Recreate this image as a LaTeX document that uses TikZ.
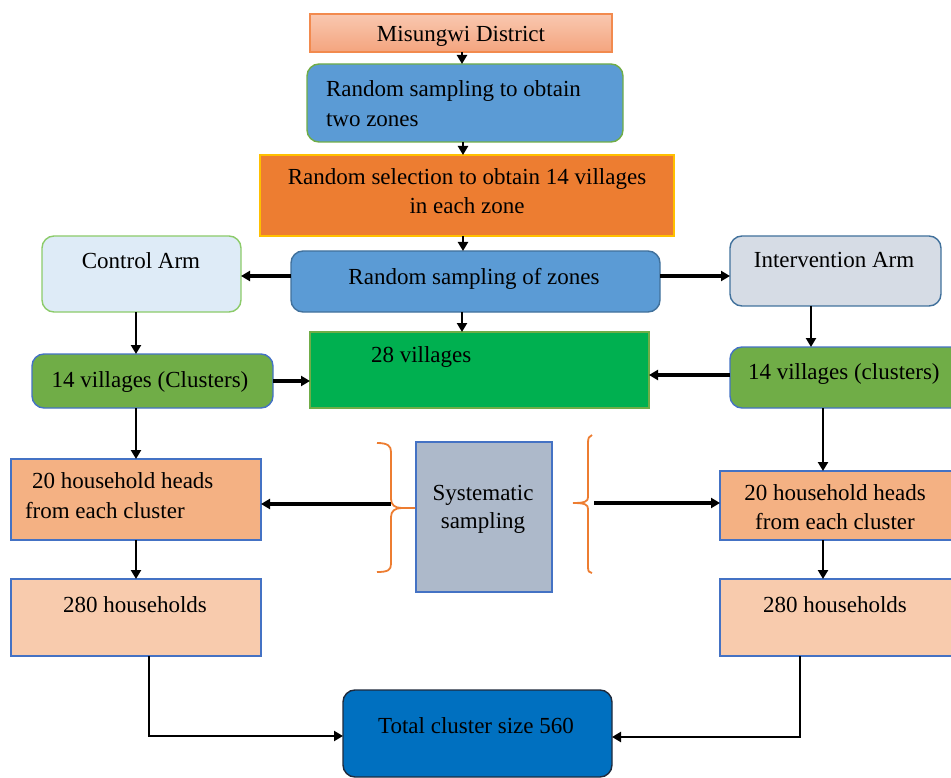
\documentclass[tikz,border=0pt]{standalone}
\usepackage{fontspec}
\setmainfont{Liberation Serif}
\usetikzlibrary{arrows.meta}
\definecolor{misTop}{HTML}{F9C8B0}
\definecolor{misBot}{HTML}{F4A47E}
\definecolor{misBd}{HTML}{F28A4E}
\definecolor{blueA}{HTML}{5B9BD5}
\definecolor{orangeA}{HTML}{ED7D31}
\definecolor{yellowA}{HTML}{FFC000}
\definecolor{greenBd}{HTML}{70AD47}
\definecolor{lightGreenBd}{HTML}{8CCB6A}
\definecolor{blueBd}{HTML}{4472C4}
\definecolor{steelBd}{HTML}{41719C}
\definecolor{paleBlue}{HTML}{DEEBF7}
\definecolor{paleGrey}{HTML}{D6DCE5}
\definecolor{greenA}{HTML}{70AD47}
\definecolor{brightGreen}{HTML}{00B050}
\definecolor{peach}{HTML}{F4B183}
\definecolor{lightPeach}{HTML}{F8CBAD}
\definecolor{sysGrey}{HTML}{ADB9CA}
\definecolor{darkBlue}{HTML}{0070C0}
\definecolor{darkBd}{HTML}{1F2A3C}
\begin{document}
\begin{tikzpicture}[x=1pt,y=-1pt,
  box/.style={draw, line width=1.4pt, inner sep=0pt, outer sep=0pt, anchor=north west},
  rbox/.style={box, rounded corners=12pt},
  txt/.style={inner sep=0pt, outer sep=0pt, font=\fontsize{23}{30}\selectfont, text=black},
  arr/.style={line width=2.4pt, -{Triangle[length=9pt,width=10pt]}},
  thickarr/.style={arr, line width=3.4pt},
  brace/.style={draw=orangeA, line width=1.8pt}]
\useasboundingbox (0,0) rectangle (951,778);

% boxes
\node[box, draw=misBd, top color=misTop, bottom color=misBot, minimum width=302pt, minimum height=38pt] (mis) at (310,14) {};
\node[rbox, draw=greenBd, fill=blueA, minimum width=316pt, minimum height=78pt] (rs2) at (307,64) {};
\node[box, draw=yellowA, fill=orangeA, minimum width=414pt, minimum height=81pt] (rsel) at (260,155) {};
\node[rbox, draw=steelBd, fill=blueA, minimum width=369pt, minimum height=61pt] (zones) at (291,251) {};
\node[rbox, draw=lightGreenBd, fill=paleBlue, minimum width=199pt, minimum height=76pt] (ca) at (42,236) {};
\node[rbox, draw=steelBd, fill=paleGrey, minimum width=211pt, minimum height=70pt] (ia) at (730,236) {};
\node[rbox, draw=blueBd, fill=greenA, minimum width=241pt, minimum height=54pt] (lv) at (32,354) {};
\node[box, draw=greenBd, fill=brightGreen, minimum width=339pt, minimum height=76pt] (v28) at (310,332) {};
\node[rbox, draw=blueBd, fill=greenA, minimum width=240pt, minimum height=61pt] (rv) at (730,347) {};
\node[box, draw=blueBd, fill=peach, minimum width=250pt, minimum height=81pt] (lhh) at (11,459) {};
\node[box, draw=blueBd, fill=sysGrey, minimum width=136pt, minimum height=150pt] (sys) at (416,442) {};
\node[box, draw=blueBd, fill=peach, minimum width=250pt, minimum height=69pt] (rhh) at (720,471) {};
\node[box, draw=blueBd, fill=lightPeach, minimum width=250pt, minimum height=77pt] (l280) at (11,579) {};
\node[box, draw=blueBd, fill=lightPeach, minimum width=250pt, minimum height=77pt] (r280) at (720,579) {};
\node[rbox, draw=darkBd, fill=darkBlue, minimum width=269pt, minimum height=87pt] (tot) at (343,690) {};

% texts
\node[txt, anchor=base] (tmis) at (461,42) {Misungwi District};
\node[txt, anchor=base west] (trs2a) at (326,97) {Random sampling to obtain};
\node[txt, anchor=base west] (trs2b) at (326,127) {two zones};
\node[txt, anchor=base] (trsela) at (467,185) {Random selection to obtain 14 villages};
\node[txt, anchor=base] (trselb) at (467,214) {in each zone};
\node[txt, anchor=base] (tzones) at (474,284) {Random sampling of zones};
\node[txt, anchor=base] (tca) at (141,269) {Control Arm};
\node[txt, anchor=base] (tia) at (834,268) {Intervention Arm};
\node[txt, anchor=base] (tlv) at (150,387) {14 villages (Clusters)};
\node[txt, anchor=base west] (tv28) at (371,362) {28 villages};
\node[txt, anchor=base west] (trv) at (748,379) {14 villages (clusters)};
\node[txt, anchor=base west] (tlhha) at (32,488) {20 household heads};
\node[txt, anchor=base west] (tlhhb) at (25,518) {from each cluster};
\node[txt, anchor=base] (tsysa) at (483,500) {Systematic};
\node[txt, anchor=base] (tsysb) at (483,528) {sampling};
\node[txt, anchor=base] (trhha) at (835,500) {20 household heads};
\node[txt, anchor=base] (trhhb) at (835,529) {from each cluster};
\node[txt, anchor=base] (tl280) at (135,612) {280 households};
\node[txt, anchor=base] (tr280) at (835,612) {280 households};
\node[txt, anchor=base] (ttot) at (476,733) {Total cluster size 560};

% braces
\draw[brace] (377,443) .. controls (388,443) and (391,446) .. (391,452) -- (391,499)
  .. controls (391,505) and (395,508) .. (402,508) -- (415,508);
\draw[brace] (402,508) .. controls (395,508) and (391,511) .. (391,517) -- (391,564)
  .. controls (391,570) and (388,572) .. (377,572);
\draw[brace] (592,435) .. controls (589,436) and (588,438) .. (588,443) -- (588,497)
  .. controls (588,501) and (586,503) .. (573,503);
\draw[brace] (573,503) .. controls (586,503) and (588,505) .. (588,509) -- (588,567)
  .. controls (588,571) and (589,573) .. (592,573);
\coordinate (bl) at (391,504);
\coordinate (br) at (594,503);

% connectors
\draw[arr] (462,0 |- mis.south) -- (462,0 |- rs2.north);
\draw[arr] (463,0 |- rs2.south) -- (463,0 |- rsel.north);
\draw[arr] (463,0 |- rsel.south) -- (463,0 |- zones.north);
\draw[thickarr] (zones.west |- 0,276) -- (ca.east |- 0,276);
\draw[thickarr] (zones.east |- 0,276) -- (ia.west |- 0,276);
\draw[arr] (462,0 |- zones.south) -- (462,0 |- v28.north);
\draw[arr] (136,0 |- ca.south) -- (136,0 |- lv.north);
\draw[arr] (811,0 |- ia.south) -- (811,0 |- rv.north);
\draw[thickarr] (lv.east |- 0,381) -- (v28.west |- 0,381);
\draw[thickarr] (rv.west |- 0,375) -- (v28.east |- 0,375);
\draw[arr] (136,0 |- lv.south) -- (136,0 |- lhh.north);
\draw[arr] (823,0 |- rv.south) -- (823,0 |- rhh.north);
\draw[thickarr] (bl) -- (bl -| lhh.east);
\draw[thickarr] (br) -- (br -| rhh.west);
\draw[arr] (136,0 |- lhh.south) -- (136,0 |- l280.north);
\draw[arr] (823,0 |- rhh.south) -- (823,0 |- r280.north);
\draw[arr] (149,0 |- l280.south) |- (tot.west |- 0,736);
\draw[arr] (800,0 |- r280.south) |- (tot.east |- 0,737);
\end{tikzpicture}
\end{document}
